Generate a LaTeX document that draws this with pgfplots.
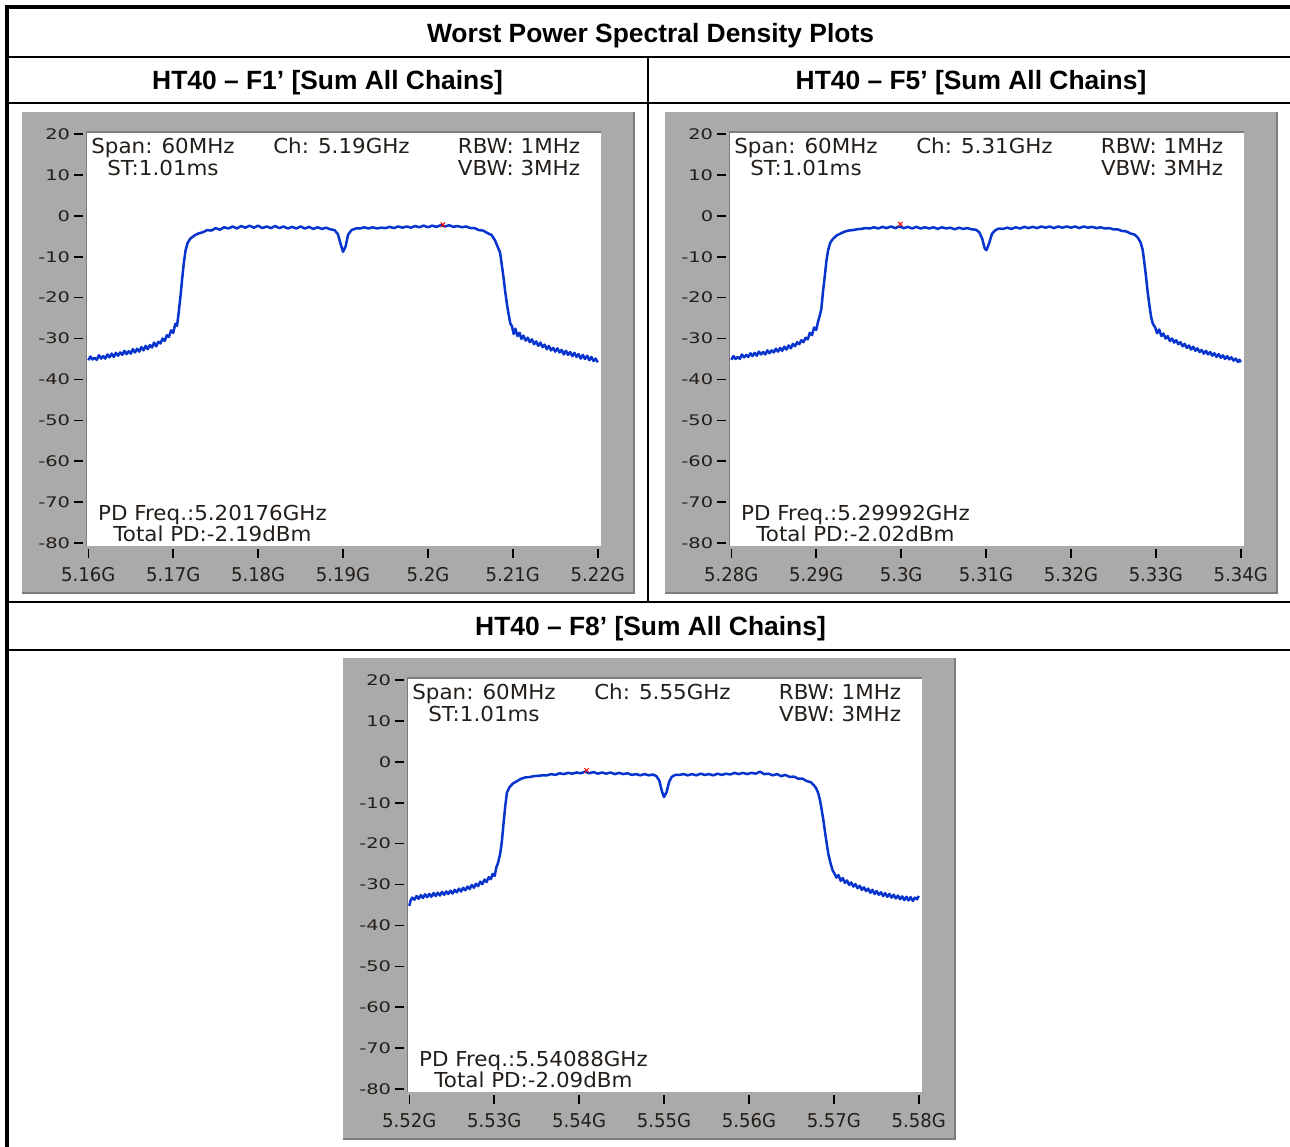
\documentclass[border=0pt]{standalone}
\usepackage{fontspec}
\setmainfont{Liberation Sans}
\newfontfamily\plotfont[FakeStretch=1.04]{DejaVu Sans}
\newfontfamily\ytickfont[FakeStretch=1.33]{DejaVu Sans}
\newfontfamily\xtickfont[FakeStretch=0.95]{DejaVu Sans}
\usepackage{pgfplots}
\usepackage{pgfplotstable}
\pgfplotsset{compat=1.18}
\definecolor{framegray}{RGB}{170,170,170}
\definecolor{framedark}{RGB}{125,125,125}
\definecolor{trace}{RGB}{8,52,206}
\definecolor{lbl}{RGB}{35,30,25}

\pgfplotstableread{
f p
-30.00 -35.3
-29.75 -34.4
-29.50 -35.1
-29.25 -34.7
-29.00 -35.2
-28.75 -34.1
-28.50 -34.9
-28.25 -34.3
-28.00 -34.9
-27.75 -33.9
-27.50 -34.6
-27.25 -33.7
-27.00 -34.5
-26.75 -33.5
-26.50 -34.2
-26.25 -33.4
-26.00 -34.0
-25.75 -33.0
-25.50 -33.8
-25.25 -33.1
-25.00 -33.7
-24.75 -32.6
-24.50 -33.4
-24.25 -32.5
-24.00 -33.2
-23.75 -32.1
-23.50 -32.9
-23.25 -31.8
-23.00 -32.6
-22.75 -31.6
-22.50 -32.2
-22.25 -31.0
-22.00 -31.9
-21.75 -30.8
-21.50 -31.2
-21.25 -30.0
-21.00 -30.6
-20.75 -29.2
-20.50 -29.6
-20.25 -28.0
-20.00 -28.6
-19.75 -26.4
-19.55 -26.9
-19.35 -23.5
-19.15 -19.8
-18.95 -15.5
-18.75 -11.5
-18.55 -8.5
-18.30 -6.6
-18.00 -5.6
-17.50 -4.8
-17.00 -4.3
-16.50 -4.0
-16.00 -3.5
-15.50 -3.6
-15.00 -3.0
-14.50 -3.4
-14.00 -2.8
-13.50 -3.1
-13.00 -2.6
-12.50 -3.1
-12.00 -2.5
-11.50 -2.9
-11.00 -2.4
-10.50 -2.9
-10.00 -2.4
-9.50 -3.0
-9.00 -2.6
-8.50 -3.0
-8.00 -2.5
-7.50 -3.0
-7.00 -2.6
-6.50 -3.1
-6.00 -2.7
-5.50 -3.1
-5.00 -2.6
-4.50 -3.1
-4.00 -2.7
-3.50 -3.2
-3.00 -2.8
-2.50 -3.2
-2.00 -2.9
-1.50 -3.3
-1.00 -3.5
-0.60 -4.5
-0.30 -6.8
0.00 -8.8
0.30 -7.5
0.60 -4.6
1.00 -3.5
1.50 -3.1
2.00 -3.1
2.50 -2.8
3.00 -3.1
3.50 -2.8
4.00 -3.1
4.50 -2.9
5.00 -3.0
5.50 -2.7
6.00 -3.0
6.50 -2.6
7.00 -2.9
7.50 -2.6
8.00 -2.9
8.50 -2.5
9.00 -2.8
9.50 -2.4
10.00 -2.8
10.50 -2.4
11.00 -2.7
11.50 -2.3
12.00 -2.6
12.50 -2.3
13.00 -2.7
13.50 -2.5
14.00 -2.8
14.50 -2.6
15.00 -3.0
15.50 -3.0
16.00 -3.5
16.50 -3.6
17.00 -4.2
17.50 -4.7
17.90 -6.0
18.20 -7.5
18.50 -9.0
18.70 -12.0
18.90 -15.0
19.10 -18.5
19.30 -21.5
19.50 -24.0
19.70 -26.3
19.90 -27.0
20.10 -28.9
20.30 -27.6
20.55 -29.4
20.80 -28.6
21.00 -30.1
21.25 -29.3
21.50 -30.5
21.75 -29.8
22.00 -30.9
22.25 -30.2
22.50 -31.4
22.75 -30.7
23.00 -31.8
23.25 -31.0
23.50 -32.1
23.75 -31.5
24.00 -32.6
24.25 -31.8
24.50 -32.9
24.75 -32.3
25.00 -33.2
25.25 -32.4
25.50 -33.4
25.75 -32.8
26.00 -33.9
26.25 -33.0
26.50 -34.0
26.75 -33.3
27.00 -34.3
27.25 -33.5
27.50 -34.5
27.75 -33.8
28.00 -34.9
28.25 -34.0
28.50 -35.0
28.75 -34.2
29.00 -35.3
29.25 -34.5
29.50 -35.5
29.75 -34.9
30.00 -35.8
}\dataA

\pgfplotstableread{
f p
-30.00 -35.2
-29.75 -34.3
-29.50 -35.0
-29.25 -34.5
-29.00 -35.0
-28.75 -33.9
-28.50 -34.6
-28.25 -34.0
-28.00 -34.5
-27.75 -33.6
-27.50 -34.3
-27.25 -33.5
-27.00 -34.2
-26.75 -33.2
-26.50 -33.9
-26.25 -33.3
-26.00 -33.9
-25.75 -32.9
-25.50 -33.6
-25.25 -32.9
-25.00 -33.4
-24.75 -32.5
-24.50 -33.2
-24.25 -32.3
-24.00 -33.0
-23.75 -32.0
-23.50 -32.7
-23.25 -31.7
-23.00 -32.4
-22.75 -31.3
-22.50 -31.9
-22.25 -30.9
-22.00 -31.4
-21.75 -30.4
-21.50 -30.9
-21.25 -29.8
-21.00 -30.2
-20.75 -28.6
-20.50 -29.2
-20.25 -27.3
-20.00 -27.9
-19.80 -26.0
-19.60 -24.5
-19.40 -22.8
-19.20 -18.5
-19.00 -14.9
-18.80 -11.0
-18.60 -8.4
-18.35 -6.6
-18.05 -5.7
-17.60 -4.8
-17.20 -4.4
-16.70 -3.9
-16.20 -3.6
-15.70 -3.5
-15.20 -3.3
-14.70 -3.2
-14.20 -3.0
-13.70 -3.1
-13.20 -2.8
-12.70 -3.1
-12.20 -2.7
-11.70 -3.0
-11.20 -2.6
-10.70 -3.0
-10.20 -2.6
-9.70 -3.0
-9.20 -2.7
-8.70 -3.1
-8.20 -2.7
-7.70 -3.1
-7.20 -2.8
-6.70 -3.1
-6.20 -2.8
-5.70 -3.2
-5.20 -2.8
-4.70 -3.1
-4.20 -2.9
-3.70 -3.3
-3.20 -2.9
-2.70 -3.2
-2.20 -3.0
-1.70 -3.3
-1.20 -3.4
-0.80 -4.0
-0.45 -5.6
-0.15 -8.0
0.05 -8.4
0.35 -6.8
0.70 -4.4
1.10 -3.5
1.50 -3.1
2.00 -3.2
2.50 -2.9
3.00 -3.2
3.50 -2.8
4.00 -3.1
4.50 -2.7
5.00 -3.0
5.50 -2.7
6.00 -3.0
6.50 -2.6
7.00 -2.9
7.50 -2.6
8.00 -3.0
8.50 -2.6
9.00 -2.9
9.50 -2.6
10.00 -2.9
10.50 -2.6
11.00 -3.0
11.50 -2.6
12.00 -2.9
12.50 -2.7
13.00 -3.0
13.50 -2.8
14.00 -3.1
14.50 -3.0
15.00 -3.3
15.50 -3.3
16.00 -3.7
16.50 -3.8
17.00 -4.3
17.50 -4.6
17.90 -5.4
18.20 -6.5
18.45 -8.3
18.65 -11.5
18.85 -15.0
19.05 -18.8
19.25 -22.0
19.45 -24.8
19.65 -26.4
19.90 -27.2
20.15 -28.7
20.40 -27.8
20.65 -29.4
20.90 -28.8
21.15 -30.0
21.40 -29.4
21.65 -30.6
21.90 -30.0
22.15 -31.0
22.40 -30.4
22.65 -31.4
22.90 -30.9
23.15 -31.9
23.40 -31.3
23.65 -32.3
23.90 -31.7
24.15 -32.7
24.40 -32.0
24.65 -33.0
24.90 -32.4
25.15 -33.3
25.40 -32.8
25.65 -33.7
25.90 -33.0
26.15 -33.9
26.40 -33.3
26.65 -34.2
26.90 -33.6
27.15 -34.5
27.40 -33.8
27.65 -34.7
27.90 -34.1
28.15 -35.0
28.40 -34.3
28.65 -35.1
28.90 -34.6
29.15 -35.4
29.40 -34.9
29.65 -35.7
29.85 -35.2
30.00 -35.8
}\dataB

\pgfplotstableread{
f p
-30.00 -35.2
-29.85 -33.9
-29.65 -33.2
-29.40 -33.7
-29.15 -32.8
-28.90 -33.5
-28.65 -32.6
-28.40 -33.3
-28.15 -32.4
-27.90 -33.1
-27.65 -32.3
-27.40 -33.0
-27.15 -32.1
-26.90 -32.8
-26.65 -32.0
-26.40 -32.7
-26.15 -31.8
-25.90 -32.5
-25.65 -31.7
-25.40 -32.3
-25.15 -31.5
-24.90 -32.2
-24.65 -31.3
-24.40 -31.9
-24.15 -31.0
-23.90 -31.7
-23.65 -30.8
-23.40 -31.4
-23.15 -30.5
-22.90 -31.1
-22.65 -30.1
-22.40 -30.8
-22.15 -29.8
-21.90 -30.4
-21.65 -29.3
-21.40 -29.9
-21.15 -28.8
-20.90 -29.4
-20.65 -28.2
-20.40 -28.7
-20.20 -27.4
-19.95 -27.9
-19.75 -25.8
-19.55 -24.7
-19.30 -22.5
-19.10 -19.5
-18.90 -15.0
-18.70 -10.8
-18.50 -7.5
-18.20 -6.2
-17.80 -5.3
-17.30 -4.7
-16.80 -4.1
-16.30 -3.8
-15.80 -3.7
-15.30 -3.5
-14.80 -3.4
-14.30 -3.3
-13.80 -3.3
-13.30 -3.0
-12.80 -3.2
-12.30 -2.8
-11.80 -3.0
-11.30 -2.7
-10.80 -2.9
-10.30 -2.6
-9.80 -2.8
-9.30 -2.4
-8.80 -2.8
-8.30 -2.5
-7.80 -2.9
-7.30 -2.6
-6.80 -2.9
-6.30 -2.6
-5.80 -3.0
-5.30 -2.7
-4.80 -3.0
-4.30 -2.8
-3.80 -3.2
-3.30 -3.0
-2.80 -3.3
-2.30 -3.0
-1.80 -3.3
-1.30 -3.1
-0.90 -3.5
-0.55 -4.6
-0.25 -7.2
0.00 -8.6
0.30 -7.4
0.60 -4.9
0.90 -3.7
1.30 -3.2
1.80 -3.2
2.30 -3.0
2.80 -3.3
3.30 -3.0
3.80 -3.3
4.30 -2.9
4.80 -3.2
5.30 -3.0
5.80 -3.3
6.30 -2.9
6.80 -3.2
7.30 -2.9
7.80 -3.1
8.30 -2.7
8.80 -3.0
9.30 -2.7
9.80 -3.0
10.30 -2.7
10.80 -2.9
11.30 -2.4
11.80 -3.0
12.30 -2.9
12.80 -3.3
13.30 -3.0
13.80 -3.5
14.30 -3.2
14.80 -3.7
15.30 -3.6
15.80 -4.1
16.30 -4.1
16.80 -4.7
17.30 -5.0
17.60 -5.6
17.90 -6.4
18.15 -7.6
18.35 -9.2
18.55 -11.5
18.75 -14.0
18.95 -17.0
19.15 -19.8
19.35 -22.5
19.60 -24.7
19.85 -26.5
20.10 -27.4
20.30 -28.3
20.55 -27.7
20.80 -29.1
21.05 -28.4
21.30 -29.6
21.55 -29.0
21.80 -30.1
22.05 -29.5
22.30 -30.5
22.55 -29.9
22.80 -30.9
23.05 -30.3
23.30 -31.3
23.55 -30.7
23.80 -31.6
24.05 -31.0
24.30 -32.0
24.55 -31.3
24.80 -32.3
25.05 -31.6
25.30 -32.5
25.55 -31.9
25.80 -32.8
26.05 -32.1
26.30 -33.0
26.55 -32.3
26.80 -33.2
27.05 -32.5
27.30 -33.4
27.55 -32.7
27.80 -33.6
28.05 -32.9
28.30 -33.8
28.55 -33.0
28.80 -33.9
29.05 -33.1
29.30 -34.0
29.55 -33.2
29.80 -33.6
30.00 -32.8
}\dataC

\newcommand\plotfs{\plotfont\fontsize{10.3}{11}\selectfont}

% #1 dx, #2 dy, #3 table, #4 xticklabels, #5 channel, #6 PD freq, #7 total PD, #8 marker x, #9 marker y
\newcommand\panel[9]{%
  \fill[framegray] ({22+#1},{-112-#2}) rectangle ({634+#1},{-593-#2});
  \draw[framedark, line width=1pt] ({22+#1},{-593-#2}) -- ({634+#1},{-593-#2}) -- ({634+#1},{-112-#2});
  \fill[white] ({86.7+#1},{-132-#2}) rectangle ({600.7+#1},{-546-#2});
  \draw[framedark, line width=0.6pt] ({86.7+#1},{-546-#2}) -- ({86.7+#1},{-132-#2}) -- ({600.7+#1},{-132-#2});
  \coordinate (axpos) at ({86.7+#1},{-546-#2});
  \begin{axis}[
    at={(axpos)}, anchor=south west,
    scale only axis, width=257pt, height=207pt,
    xmin=-30.19, xmax=30.35, ymin=-80.73, ymax=20.49,
    axis line style={draw=none},
    tick pos=left,
    tick align=outside, major tick length=4.5pt,
    xtick={-30,-20,...,30}, xticklabels={#4},
    ytick={-80,-70,...,20},
    yticklabels={-80,-70,-60,-50,-40,-30,-20,-10,0,10,20},
    xtick style={draw=black, line width=0.8pt, yshift=-1.5pt},
    ytick style={draw=black, line width=0.8pt, xshift=-2pt},
    xticklabel style={font=\xtickfont\fontsize{9.5}{10}\selectfont, text=lbl, inner sep=0pt, anchor=north, yshift=-6pt},
    yticklabel style={font=\ytickfont\fontsize{7.3}{8}\selectfont, text=lbl, inner sep=0pt, anchor=east, xshift=-3.6pt},
  ]
  \addplot[trace, line width=1.25pt, line join=round] table[x=f, y=p] {#3};
  \addplot[red, only marks, mark=x, mark size=1.6pt, line width=0.5pt] coordinates {(#8,#9)};
  \end{axis}
  \node[font=\plotfs, text=lbl, anchor=base, inner sep=0pt] at ({163+#1},{-153-#2}) {Span: 60MHz};
  \node[font=\plotfs, text=lbl, anchor=base, inner sep=0pt] at ({163+#1},{-175-#2}) {ST:1.01ms};
  \node[font=\plotfs, text=lbl, anchor=base, inner sep=0pt] at ({341.5+#1},{-153-#2}) {Ch: #5};
  \node[font=\plotfs, text=lbl, anchor=base, inner sep=0pt] at ({519+#1},{-153-#2}) {RBW: 1MHz};
  \node[font=\plotfs, text=lbl, anchor=base, inner sep=0pt] at ({519+#1},{-175-#2}) {VBW: 3MHz};
  \node[font=\plotfs, text=lbl, anchor=base, inner sep=0pt] at ({212.5+#1},{-520-#2}) {PD Freq.:#6};
  \node[font=\plotfs, text=lbl, anchor=base, inner sep=0pt] at ({212.5+#1},{-541-#2}) {Total PD:#7};
}

\begin{document}
\begin{tikzpicture}[x=0.5pt, y=0.5pt]
  \useasboundingbox (0,0) rectangle (1290,-1146);
  \clip (0,0) rectangle (1290,-1146);
  % table
  \draw[black, line width=1.75pt] (7,-1160) -- (7,-7) -- (1300,-7);
  \draw[black, line width=0.85pt] (7,-57) -- (1300,-57);
  \draw[black, line width=0.85pt] (7,-103) -- (1300,-103);
  \draw[black, line width=0.85pt] (7,-602) -- (1300,-602);
  \draw[black, line width=0.85pt] (7,-650) -- (1300,-650);
  \draw[black, line width=0.85pt] (648,-57) -- (648,-602);
  \node[font=\bfseries\fontsize{13.2}{15}\selectfont, anchor=base, inner sep=0pt] at (650.5,-42.5) {Worst Power Spectral Density Plots};
  \node[font=\bfseries\fontsize{13.2}{15}\selectfont, anchor=base, inner sep=0pt] at (327.5,-89.5) {HT40 – F1’ [Sum All Chains]};
  \node[font=\bfseries\fontsize{13.2}{15}\selectfont, anchor=base, inner sep=0pt] at (971,-89.5) {HT40 – F5’ [Sum All Chains]};
  \node[font=\bfseries\fontsize{13.2}{15}\selectfont, anchor=base, inner sep=0pt] at (650.5,-635.5) {HT40 – F8’ [Sum All Chains]};
  \panel{0}{0}{\dataA}{5.16G,5.17G,5.18G,5.19G,5.2G,5.21G,5.22G}{5.19GHz}{5.20176GHz}{-2.19dBm}{11.76}{-2.19}
  \panel{643}{0}{\dataB}{5.28G,5.29G,5.3G,5.31G,5.32G,5.33G,5.34G}{5.31GHz}{5.29992GHz}{-2.02dBm}{-10.08}{-2.02}
  \panel{321}{546}{\dataC}{5.52G,5.53G,5.54G,5.55G,5.56G,5.57G,5.58G}{5.55GHz}{5.54088GHz}{-2.09dBm}{-9.12}{-2.09}
\end{tikzpicture}
\end{document}
